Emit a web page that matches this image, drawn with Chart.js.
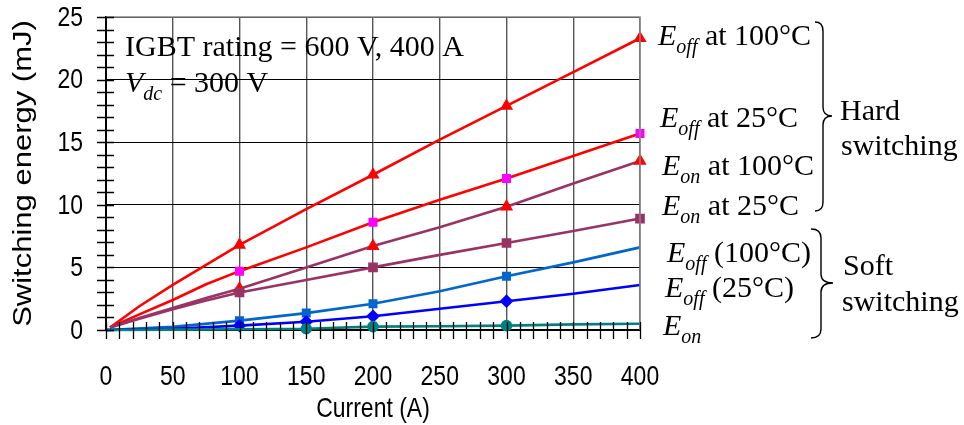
<!DOCTYPE html>
<html>
<head>
<meta charset="utf-8">
<script src="https://cdn.jsdelivr.net/npm/chart.js@4.4.1/dist/chart.umd.min.js"></script>
<style>
  html, body { margin: 0; padding: 0; background: #fff; }
  #wrap { width: 964px; height: 425px; position: relative; }
</style>
</head>
<body>
<div id="wrap"><canvas id="chart"></canvas></div>
<script>
// hard switching curves (current in A, energy in mJ)
const currentHard = [3, 25, 50, 75, 100, 150, 200, 250, 300, 350, 400];
const eoff100Hard = [0.2, 1.9, 3.6, 5.2, 6.8, 9.65, 12.4, 15.2, 17.9, 20.6, 23.3];
const eoff25Hard  = [0.2, 1.25, 2.4, 3.65, 4.7, 6.6, 8.6, 10.4, 12.1, 13.9, 15.7];
const eon100Hard  = [0.2, 0.95, 1.75, 2.55, 3.3, 5.0, 6.7, 8.2, 9.85, 11.7, 13.5];
const eon25Hard   = [0.2, 0.9, 1.65, 2.35, 3.0, 4.0, 5.0, 6.0, 6.95, 7.9, 8.9];
const markersHard = [100, 200, 300, 400];

// soft switching curves
const currentSoft = [0, 50, 100, 150, 200, 250, 300, 350, 400];
const eoff100Soft = [0, 0.25, 0.75, 1.35, 2.1, 3.1, 4.3, 5.4, 6.6];
const eoff25Soft  = [0, 0.1, 0.35, 0.66, 1.1, 1.7, 2.3, 2.9, 3.6];
const eonSoft     = [0, 0.03, 0.06, 0.1, 0.27, 0.3, 0.35, 0.45, 0.5];
const markersSoft = [100, 150, 200, 300];
const markersEon  = [150, 200, 300];

const xTicks = [0, 50, 100, 150, 200, 250, 300, 350, 400];
const yTicks = [0, 5, 10, 15, 20, 25];

const sans = '"Liberation Sans", Arial, sans-serif';
const serif = '"Liberation Serif", "Times New Roman", serif';
const squeeze = 0.82; // sans text in the original is horizontally narrow

function pts(xs, ys) {
  return xs.map((x, i) => ({ x: x, y: ys[i] }));
}

function series(xs, ys, lineColor, markColor, style, marks, r) {
  return {
    data: pts(xs, ys),
    borderColor: lineColor,
    backgroundColor: markColor,
    pointBorderColor: markColor,
    pointBackgroundColor: markColor,
    borderWidth: 2.6,
    pointStyle: style,
    pointRadius: ctx => marks.includes(ctx.raw.x) ? r : 0,
    pointHoverRadius: 0,
    tension: 0,
    clip: false
  };
}

// narrow text helper
function narrowText(c, text, x, y, align) {
  c.save();
  c.translate(x, y);
  c.scale(squeeze, 1);
  c.textAlign = align;
  c.fillText(text, 0, 0);
  c.restore();
}

// tick labels, axis titles, minor ticks, frame, annotations and braces
const extras = {
  id: "extras",
  afterDraw(chart) {
    const c = chart.ctx;
    const xs = chart.scales.x, ys = chart.scales.y;
    const a = chart.chartArea;
    c.save();

    // top and right frame
    c.strokeStyle = "#888";
    c.lineWidth = 1.5;
    c.beginPath();
    c.moveTo(a.left, a.top); c.lineTo(a.right, a.top); c.lineTo(a.right, a.bottom);
    c.stroke();

    // minor ticks crossing the axes
    c.strokeStyle = "#000";
    c.lineWidth = 1.3;
    c.beginPath();
    for (let v = 0; v <= 25; v++) {
      const y = Math.round(ys.getPixelForValue(v)) + 0.5;
      c.moveTo(a.left - 9, y); c.lineTo(a.left + 8, y);
    }
    for (let v = 0; v <= 400; v += 10) {
      const x = Math.round(xs.getPixelForValue(v)) + 0.5;
      c.moveTo(x, a.bottom - 8); c.lineTo(x, a.bottom + 9);
    }
    c.stroke();

    // tick labels
    c.fillStyle = "#000";
    c.font = "28px " + sans;
    c.textBaseline = "middle";
    ys.ticks.forEach(t => narrowText(c, String(t.value), 83, ys.getPixelForValue(t.value) + 1, "right"));
    c.textBaseline = "alphabetic";
    xs.ticks.forEach(t => narrowText(c, String(t.value), xs.getPixelForValue(t.value), 385, "center"));

    // axis titles
    narrowText(c, "Current (A)", (a.left + a.right) / 2, 417, "center");
    c.save();
    c.translate(24, (a.top + a.bottom) / 2);
    c.scale(squeeze, 1);
    c.rotate(-Math.PI / 2);
    c.font = "31px " + sans;
    c.textAlign = "center";
    c.textBaseline = "middle";
    c.fillText("Switching energy (mJ)", 0, 0);
    c.restore();

    // text block inside the plot
    c.textBaseline = "alphabetic";
    c.textAlign = "left";
    c.font = "30px " + serif;
    c.fillText("IGBT rating = 600 V, 400 A", 125, 56);
    c.font = "italic 30px " + serif;
    c.fillText("V", 125, 92);
    let w = c.measureText("V").width;
    c.font = "italic 20px " + serif;
    c.fillText("dc", 125 + w, 100);
    w += c.measureText("dc").width;
    c.font = "30px " + serif;
    c.fillText(" = 300 V", 125 + w, 92);

    // curve labels
    function label(x, y, sub, rest) {
      c.font = "italic 30px " + serif;
      c.fillText("E", x, y);
      let dx = c.measureText("E").width;
      c.font = "italic 20px " + serif;
      c.fillText(sub, x + dx, y + 8);
      dx += c.measureText(sub).width;
      c.font = "30px " + serif;
      c.fillText(rest, x + dx, y);
    }
    label(658, 45, "off", " at 100°C");
    label(660, 127, "off", " at 25°C");
    label(662, 175, "on", " at 100°C");
    label(662, 215, "on", " at 25°C");
    label(667, 262, "off", " (100°C)");
    label(665, 297, "off", " (25°C)");
    label(663, 335, "on", "");

    c.font = "30px " + serif;
    c.fillText("Hard", 840, 120);
    c.fillText("switching", 841, 155);
    c.fillText("Soft", 843, 275);
    c.fillText("switching", 842, 311);

    // braces
    function brace(xHook, xLine, xTip, yTop, yTip, yBot) {
      const r = 9;
      c.beginPath();
      c.moveTo(xHook, yTop);
      c.quadraticCurveTo(xLine, yTop, xLine, yTop + r);
      c.lineTo(xLine, yTip - r);
      c.quadraticCurveTo(xLine, yTip, xTip, yTip);
      c.quadraticCurveTo(xLine, yTip, xLine, yTip + r);
      c.lineTo(xLine, yBot - r);
      c.quadraticCurveTo(xLine, yBot, xHook, yBot);
      c.stroke();
    }
    c.lineWidth = 1.4;
    brace(815, 823, 832, 22, 116, 211);
    brace(811, 821, 833, 229, 283, 338);

    c.restore();
  }
};

new Chart(document.getElementById("chart"), {
  type: "line",
  data: {
    datasets: [
      series(currentSoft, eonSoft, "#008080", "#008080", "circle", markersEon, 4.5),
      series(currentSoft, eoff25Soft, "#0000FF", "#0000FF", "rectRot", markersSoft, 5),
      series(currentSoft, eoff100Soft, "#0066CC", "#0066CC", "rect", markersSoft, 4.5),
      series(currentHard, eon25Hard, "#993366", "#993366", "rect", markersHard, 5),
      series(currentHard, eon100Hard, "#993366", "#FF0000", "triangle", markersHard, 5),
      series(currentHard, eoff25Hard, "#FF0000", "#FF00FF", "rect", markersHard, 4.5),
      series(currentHard, eoff100Hard, "#FF0000", "#FF0000", "triangle", markersHard, 5)
    ]
  },
  options: {
    responsive: true,
    maintainAspectRatio: false,
    animation: false,
    events: [],
    layout: { padding: { top: 17, right: 324, bottom: 0, left: 0 } },
    plugins: {
      legend: { display: false },
      tooltip: { enabled: false }
    },
    scales: {
      x: {
        type: "linear",
        min: 0,
        max: 400,
        afterFit: s => { s.height = 95; s.paddingLeft = 0; s.paddingRight = 0; },
        afterBuildTicks: s => { s.ticks = xTicks.map(v => ({ value: v })); },
        grid: { color: "#555", lineWidth: 1.4, drawTicks: false },
        border: { color: "#000", width: 2 },
        ticks: { display: false }
      },
      y: {
        min: 0,
        max: 25,
        afterFit: s => { s.width = 106; s.paddingTop = 0; s.paddingBottom = 0; },
        afterBuildTicks: s => { s.ticks = yTicks.map(v => ({ value: v })); },
        grid: { color: "#000", lineWidth: 1, drawTicks: false },
        border: { color: "#000", width: 2 },
        ticks: { display: false }
      }
    }
  },
  plugins: [extras]
});
</script>
</body>
</html>
